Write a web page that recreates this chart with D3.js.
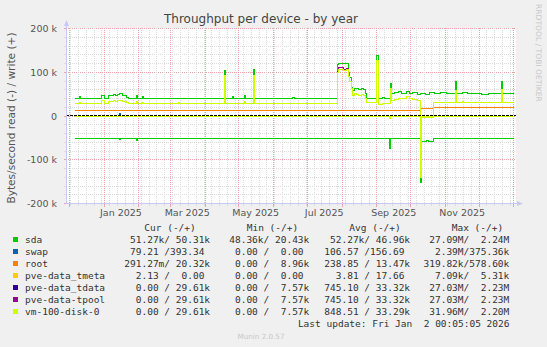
<!DOCTYPE html>
<html><head><meta charset="utf-8">
<script src="https://cdn.jsdelivr.net/npm/d3@7"></script>
<style>
body{margin:0;background:#f0f0f0}
svg{display:block}
text{white-space:pre}
</style>
</head><body>
<svg id="chart" width="547" height="347"></svg>
<script>
// ---------------- DATA (k bytes/s; write positive, read negative) ----------------
const yTicks = [-200, -100, 0, 100, 200];
const yTickLabels = ["-200 k", "-100 k", "0", "100 k", "200 k"];
const xLabelMonths = ["2025-01-01", "2025-03-01", "2025-05-01", "2025-07-01", "2025-09-01", "2025-11-01"];

const sdaWrite = [["2024-12-06",40.5],["2024-12-10",44],["2024-12-11",40.5],["2024-12-30",47],["2025-01-01",40.5],
 ["2025-01-05",46],["2025-01-07",48],["2025-01-09",50],["2025-01-11",47],["2025-01-13",49],["2025-01-15",51],
 ["2025-01-17",48],["2025-01-19",46],["2025-01-21",42],["2025-01-23",40.5],["2025-01-30",46],["2025-01-31",40.5],
 ["2025-02-04",44],["2025-02-05",40.5],["2025-03-08",41],["2025-03-09",40.5],["2025-04-18",104],["2025-04-19",40.5],
 ["2025-04-25",45],["2025-04-26",40.5],["2025-05-06",48],["2025-05-07",40.5],["2025-05-14",106],["2025-05-15",40.5],
 ["2025-06-18",43],["2025-06-20",40.5],["2025-07-28",118],["2025-07-29",121],["2025-08-02",119],["2025-08-05",121],
 ["2025-08-07",100],["2025-08-08",88],["2025-08-09",66],["2025-08-10",58],["2025-08-12",62],["2025-08-14",64],
 ["2025-08-16",60],["2025-08-18",63],["2025-08-20",61],["2025-08-22",52],["2025-08-23",41],["2025-09-01",138],
 ["2025-09-02",41],["2025-09-06",43],["2025-09-08",41],["2025-09-13",75],["2025-09-14",52],["2025-09-17",54],
 ["2025-09-20",56],["2025-09-23",52],["2025-09-27",55],["2025-09-30",51],["2025-10-03",53],["2025-10-07",50],
 ["2025-10-10",52],["2025-10-14",50],["2025-10-18",54],["2025-10-22",51],["2025-10-28",53],["2025-11-02",51],
 ["2025-11-06",52],["2025-11-10",80],["2025-11-11",51],["2025-11-16",53],["2025-11-21",51],["2025-11-27",52],
 ["2025-12-03",50],["2025-12-09",52],["2025-12-15",51],["2025-12-21",79],["2025-12-22",51],["2025-12-28",52],
 ["2026-01-01",50]];
const sdaRead = [["2024-12-06",-51],["2025-01-15",-53],["2025-01-16",-51],["2025-01-30",-55],["2025-01-31",-51],
 ["2025-04-25",-52],["2025-04-26",-51],["2025-06-04",-52],["2025-06-05",-51],["2025-08-14",-52],["2025-08-15",-51],
 ["2025-08-20",-52],["2025-08-22",-51],["2025-09-12",-75],["2025-09-13",-51],["2025-10-10",-153],["2025-10-11",-59],
 ["2025-10-15",-57],["2025-10-17",-59],["2025-10-21",-51],["2026-01-01",-51]];
const swapWrite = [["2024-12-06",0],["2025-01-15",6],["2025-01-16",0],["2026-01-01",0]];
const swapRead = [["2024-12-06",0],["2025-01-30",-2],["2025-01-31",0],["2026-01-01",0]];
const rootWrite = [["2024-12-06",13.5],["2025-10-10",17.5],["2025-10-21",20],["2026-01-01",20]];
const rootRead = [["2024-12-06",0],["2026-01-01",0]];
const tmetaWrite = [["2024-12-06",0],["2026-01-01",0]];
const tmetaRead = [["2024-12-06",0],["2026-01-01",0]];
const tpoolWrite = [["2024-12-06",29],["2024-12-10",31],["2024-12-11",29],["2024-12-30",35],["2025-01-01",29],
 ["2025-01-05",33],["2025-01-07",34],["2025-01-09",35],["2025-01-11",33],["2025-01-13",35],["2025-01-15",36],
 ["2025-01-17",34],["2025-01-19",33],["2025-01-21",31],["2025-01-23",29],["2025-01-30",34],["2025-01-31",29],
 ["2025-02-04",31],["2025-02-05",29],["2025-03-08",32],["2025-03-09",29],["2025-04-18",92],["2025-04-19",29],
 ["2025-05-06",34],["2025-05-07",29],["2025-05-14",93],["2025-05-15",29],["2025-07-28",102],["2025-07-29",110],
 ["2025-08-02",106],["2025-08-05",109],["2025-08-07",90],["2025-08-08",80],["2025-08-09",62],["2025-08-10",48],
 ["2025-08-12",52],["2025-08-14",50],["2025-08-16",47],["2025-08-18",50],["2025-08-20",46],["2025-08-22",40],
 ["2025-08-23",30],["2025-09-01",128],["2025-09-02",27],["2025-09-06",29],["2025-09-08",28],["2025-09-13",62],
 ["2025-09-14",36],["2025-09-17",38],["2025-09-20",41],["2025-09-23",39],["2025-09-27",44],["2025-09-30",40],
 ["2025-10-03",37],["2025-10-07",36],["2025-10-10",0],["2025-10-21",30],["2025-10-28",32],["2025-11-02",30],
 ["2025-11-10",58],["2025-11-11",30],["2025-11-16",33],["2025-11-17",30],["2025-11-27",32],["2025-11-28",30],
 ["2025-12-21",60],["2025-12-22",30],["2026-01-01",30]];
const tpoolRead = [["2024-12-06",0],["2025-09-12",-4],["2025-09-13",0],["2025-10-10",-125],["2025-10-11",0],["2026-01-01",0]];
const tdataWrite = tpoolWrite;   // identical values in the legend
const tdataRead = tpoolRead;
const vmWrite = [["2024-12-06",29],["2024-12-10",31],["2024-12-11",29],["2024-12-30",35],["2025-01-01",29],
 ["2025-01-05",33],["2025-01-07",34],["2025-01-09",35],["2025-01-11",33],["2025-01-13",35],["2025-01-15",36],
 ["2025-01-17",34],["2025-01-19",33],["2025-01-21",31],["2025-01-23",29],["2025-01-30",34],["2025-01-31",29],
 ["2025-02-04",31],["2025-02-05",29],["2025-03-08",32],["2025-03-09",29],["2025-04-18",92],["2025-04-19",29],
 ["2025-05-06",34],["2025-05-07",29],["2025-05-14",93],["2025-05-15",29],["2025-07-28",100],["2025-07-29",106],
 ["2025-08-02",104],["2025-08-05",106],["2025-08-07",90],["2025-08-08",80],["2025-08-09",62],["2025-08-10",48],
 ["2025-08-12",52],["2025-08-14",50],["2025-08-16",47],["2025-08-18",50],["2025-08-20",46],["2025-08-22",40],
 ["2025-08-23",30],["2025-09-01",128],["2025-09-02",27],["2025-09-06",29],["2025-09-08",28],["2025-09-13",62],
 ["2025-09-14",36],["2025-09-17",38],["2025-09-20",41],["2025-09-23",39],["2025-09-27",44],["2025-09-30",40],
 ["2025-10-03",37],["2025-10-07",36],["2025-10-10",0],["2025-10-21",30],["2025-10-28",32],["2025-11-02",30],
 ["2025-11-10",58],["2025-11-11",30],["2025-11-16",33],["2025-11-17",30],["2025-11-27",32],["2025-11-28",30],
 ["2025-12-21",60],["2025-12-22",30],["2026-01-01",30]];
const vmRead = [["2024-12-06",0],["2025-09-12",-5],["2025-09-13",0],["2025-10-10",-140],["2025-10-11",-3],["2025-10-21",0],["2026-01-01",0]];

const deviceNames = ["sda","swap","root","pve-data_tmeta","pve-data_tdata","pve-data-tpool","vm-100-disk-0"];
const deviceColors = ["#00cc00","#0066b3","#ff8000","#ffcc00","#330099","#990099","#ccff00"];
const legendHeaders = ["Cur (-/+)","Min (-/+)","Avg (-/+)","Max (-/+)"];
const curValues = [" 51.27k/ 50.31k"," 79.21 /393.34 ","291.27m/ 20.32k","  2.13 /  0.00 ","  0.00 / 29.61k","  0.00 / 29.61k","  0.00 / 29.61k"];
const minValues = [" 48.36k/ 20.43k","  0.00 /  0.00 ","  0.00 /  8.96k","  0.00 /  0.00 ","  0.00 /  7.57k","  0.00 /  7.57k","  0.00 /  7.57k"];
const avgValues = [" 52.27k/ 46.96k","106.57 /156.69 ","238.85 / 13.47k","  3.81 / 17.66 ","745.10 / 33.32k","745.10 / 33.32k","848.51 / 33.29k"];
const maxValues = [" 27.09M/  2.24M","  2.39M/375.36k","319.82k/578.60k","  7.09k/  5.31k"," 27.03M/  2.23M"," 27.03M/  2.23M"," 31.96M/  2.20M"];
const seriesRead = [sdaRead, swapRead, rootRead, tmetaRead, tdataRead, tpoolRead, vmRead];
const seriesWrite = [sdaWrite, swapWrite, rootWrite, tmetaWrite, tdataWrite, tpoolWrite, vmWrite];

// ---------------- DRAW ----------------
const svg = d3.select("#chart");
const parse = d3.utcParse("%Y-%m-%d");
const tStart = new Date(Date.UTC(2024,10,28,0,5));
const tEnd = new Date(Date.UTC(2026,0,2,0,5));
const x = d3.scaleUtc().domain([tStart, tEnd]).range([66, 515]);
const y = d3.scaleLinear().domain([-200, 200]).range([203.5, 28.5]);
const L = 66, R = 516, T = 28, B = 204;
const snap = v => Math.floor(v) + 0.5;

svg.append("rect").attr("x", L).attr("y", T).attr("width", R - L).attr("height", B - T).attr("fill", "#fff");

const minorC = "#dcdcdc", majorC = "#eba3a3", axisC = "#c8c8f4";
// horizontal grid
d3.range(-200, 201, 20).forEach(v => {
  const major = v % 100 === 0;
  const py = snap(y(v));
  svg.append("line").attr("x1", L).attr("x2", R).attr("y1", py).attr("y2", py)
    .attr("stroke", major ? majorC : minorC).attr("stroke-dasharray", "1,1");
  svg.append("line").attr("x1", L - 2).attr("x2", L).attr("y1", py).attr("y2", py)
    .attr("stroke", major ? majorC : minorC);
});
// vertical grid
const weeks = d3.utcMonday.range(tStart, tEnd);
const months = d3.utcMonth.range(tStart, tEnd);
weeks.forEach(d => {
  const px = snap(x(d));
  svg.append("line").attr("x1", px).attr("x2", px).attr("y1", T).attr("y2", B).attr("stroke", minorC).attr("stroke-dasharray", "1,1");
  svg.append("line").attr("x1", px).attr("x2", px).attr("y1", B).attr("y2", B + 2).attr("stroke", minorC);
});
months.forEach(d => {
  const px = snap(x(d));
  svg.append("line").attr("x1", px).attr("x2", px).attr("y1", T).attr("y2", B).attr("stroke", majorC).attr("stroke-dasharray", "1,1");
  svg.append("line").attr("x1", px).attr("x2", px).attr("y1", B).attr("y2", B + 3).attr("stroke", majorC);
});

// data lines
const line = d3.line().x(d => x(parse(d[0]))).y(d => y(d[1])).curve(d3.curveStepAfter);
deviceNames.forEach((n, i) => {
  [seriesRead[i], seriesWrite[i]].forEach(s => {
    svg.append("path").attr("d", line(s)).attr("fill", "none").attr("stroke", deviceColors[i])
      .attr("stroke-width", 1).attr("shape-rendering", "crispEdges");
  });
});
// zero rule
svg.append("line").attr("x1", L).attr("x2", R).attr("y1", snap(y(0)) - 1).attr("y2", snap(y(0)) - 1)
  .attr("stroke", "#000").attr("stroke-dasharray", "3,1");

// axes
svg.append("line").attr("x1", L + 0.5).attr("x2", L + 0.5).attr("y1", B).attr("y2", T - 4).attr("stroke", axisC);
svg.append("path").attr("d", `M${L - 2},${T - 2} L${L + 0.5},${T - 8} L${L + 3},${T - 2} Z`).attr("fill", axisC);
svg.append("line").attr("x1", L).attr("x2", R + 3).attr("y1", B - 0.5).attr("y2", B - 0.5).attr("stroke", axisC);
svg.append("path").attr("d", `M${R + 1},${B - 3} L${R + 7},${B - 0.5} L${R + 1},${B + 2} Z`).attr("fill", axisC);

// y tick labels
yTicks.forEach((v, i) => {
  svg.append("text").attr("x", 57).attr("y", y(v) + 3.5).attr("text-anchor", "end")
    .attr("font-family", "DejaVu Sans").attr("font-size", 9.5).attr("fill", "#555").text(yTickLabels[i]);
});
// x labels
const fmt = d3.utcFormat("%b %Y");
xLabelMonths.forEach(m => {
  const d = parse(m);
  svg.append("text").attr("x", x(d3.utcDay.offset(d, 15))).attr("y", 215.5).attr("text-anchor", "middle")
    .attr("font-family", "DejaVu Sans").attr("font-size", 9.5).attr("fill", "#555").text(fmt(d));
});

// title & labels
svg.append("text").attr("x", 261).attr("y", 22.5).attr("text-anchor", "middle")
  .attr("font-family", "DejaVu Sans").attr("font-size", 12).attr("fill", "#444").text("Throughput per device - by year");
svg.append("text").attr("transform", "translate(15,118) rotate(-90)").attr("text-anchor", "middle")
  .attr("font-family", "DejaVu Sans").attr("font-size", 10.6).attr("fill", "#555").text("Bytes/second read (-) / write (+)");
svg.append("text").attr("transform", "translate(535.5,4) rotate(90)").attr("text-anchor", "start")
  .attr("font-family", "DejaVu Sans").attr("font-size", 7.6).attr("fill", "#c8c8c8").text("RRDTOOL / TOBI OETIKER");

// legend
const mono = "DejaVu Sans Mono", fs = 9.5;
const headerX = [144.3, 246.7, 349.3, 451.7];
legendHeaders.forEach((h, i) => {
  svg.append("text").attr("x", headerX[i]).attr("y", 231).attr("font-family", mono).attr("font-size", fs).attr("fill", "#333").text(h);
});
const colX = [124.3, 223.5, 324.3, 423.5];
const cols = [curValues, minValues, avgValues, maxValues];
deviceNames.forEach((n, i) => {
  const by = 243 + i * 12;
  svg.append("rect").attr("x", 13).attr("y", by - 6).attr("width", 5).attr("height", 5).attr("fill", deviceColors[i]);
  svg.append("text").attr("x", 25).attr("y", by).attr("font-family", mono).attr("font-size", fs).attr("fill", "#333").text(n);
  cols.forEach((c, j) => {
    svg.append("text").attr("x", colX[j]).attr("y", by).attr("font-family", mono).attr("font-size", fs).attr("fill", "#333").text(c[i]);
  });
});
svg.append("text").attr("x", 509.5).attr("y", 327).attr("text-anchor", "end").attr("font-family", mono).attr("font-size", fs)
  .attr("fill", "#333").text("Last update: Fri Jan  2 00:05:05 2026");
svg.append("text").attr("x", 261).attr("y", 339).attr("text-anchor", "middle").attr("font-family", "DejaVu Sans")
  .attr("font-size", 7.2).attr("fill", "#c8c8c8").text("Munin 2.0.57");
</script>
</body></html>
